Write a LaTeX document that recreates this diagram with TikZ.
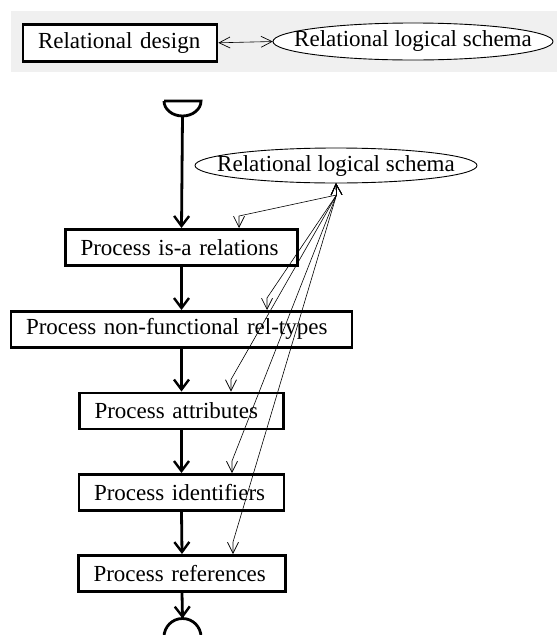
\documentclass[tikz,border=0pt]{standalone}
\usepackage{fontspec}
\setmainfont{Liberation Serif}
\usetikzlibrary{arrows.meta}
\definecolor{bandgrey}{HTML}{F0F0F0}
\begin{document}
\begin{tikzpicture}[x=1pt,y=-1pt,
  font=\fontsize{23}{27}\selectfont,
  pbox/.style={draw, line width=2.6pt, fill=white, inner xsep=15pt, inner ysep=0pt, anchor=north, minimum height=36pt, align=left},
  ovaltext/.style={inner sep=0pt},
  ovalline/.style={draw, fill=white, line width=0.9pt},
  flow/.style={line width=2.8pt, -{Straight Barb[length=10pt,width=15pt,line width=2.4pt]}},
  link/.style={line width=0.6pt, {Straight Barb[length=11pt,width=11pt,line width=0.7pt]}-{Straight Barb[length=11pt,width=11pt,line width=0.7pt]}},
  symb/.style={line width=2.8pt}
]
\useasboundingbox (0,0) rectangle (557,635);
\fill[bandgrey] (11,11) rectangle (557,72);
\node[pbox, minimum height=37pt, text width=164pt] (rd) at (120,23) {Relational design};
\path[ovalline] (413,41.5) ellipse[x radius=140pt, y radius=18.5pt];
\node[ovaltext, minimum height=37pt, minimum width=280pt] (rls) at (413,41.5) {Relational logical schema};
\draw[link] (rd.east) -- (rls.west);

% start symbol
\draw[symb] (164,101) -- (201,101) arc[start angle=0,end angle=-180,x radius=18.5pt,y radius=15pt];
\coordinate (start) at (182.5,116);

\path[ovalline] (336,165.5) ellipse[x radius=141pt, y radius=17.5pt];
\node[ovaltext, minimum height=35pt, minimum width=282pt] (ls) at (336,165.5) {Relational logical schema};

\node[pbox, text width=202pt] (b1) at (181.5,228) {Process is-a relations};
\node[pbox, text width=311pt] (b2) at (181.5,310) {Process non-functional rel-types};
\node[pbox, text width=174pt] (b3) at (181.5,391.5) {Process attributes};
\node[pbox, text width=175pt] (b4) at (181.5,473) {Process identifiers};
\node[pbox, text width=177pt] (b5) at (182,554) {Process references};

% end symbol
\draw[symb] (164,637) arc[start angle=180,end angle=0,x radius=18.5pt,y radius=18.5pt] -- cycle;
\coordinate (finish) at (182.5,618.5);

\draw[flow] (start) -- (b1.north);
\draw[flow] (b1.south) -- (b2.north);
\draw[flow] (b2.south) -- (b3.north);
\draw[flow] (b3.south) -- (b4.north);
\draw[flow] (b4.south) -- (b5.north);
\draw[flow] (b5.south) -- (finish);

\coordinate (hub) at (336.5,195);
\coordinate (t1) at (239,228);
\coordinate (t2) at (267,310);
\coordinate (t3) at (231,391.5);
\coordinate (t4) at (232,473);
\coordinate (t5) at (233,554);
\foreach \t in {t1,t2,t3,t4,t5}
  \draw[link] (ls.south) -- (hub) -- ([yshift=12pt]\t) -- (\t);
\end{tikzpicture}
\end{document}
